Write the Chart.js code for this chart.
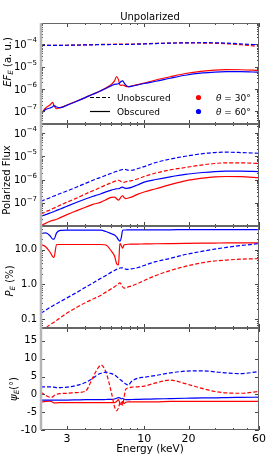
<!DOCTYPE html>
<html>
<head>
<meta charset="utf-8">
<script src="https://cdn.jsdelivr.net/npm/chart.js@4"></script>
<style>
  html, body { margin: 0; padding: 0; background: #fff; }
  #fig { position: relative; width: 273px; height: 468px; }
  #fig canvas { position: absolute; left: 0; top: 0; }
</style>
</head>
<body>
<div id="fig">
  <canvas id="p1" width="273" height="468"></canvas>
  <canvas id="p2" width="273" height="468"></canvas>
  <canvas id="p3" width="273" height="468"></canvas>
  <canvas id="p4" width="273" height="468"></canvas>
</div>
<script>
// energy grid (keV), shared by every curve
const energy = [2.0, 2.15, 2.3, 2.4, 2.45, 2.55, 2.7, 3, 3.5, 4, 4.5, 4.8, 5.1, 5.5, 6, 6.3, 6.5,
  6.7, 6.85, 7.0, 7.15, 7.3, 7.5, 7.8, 8.2, 9, 10, 12, 15, 19, 25, 30, 36, 45, 60];

// panel 1: E F_E
const fluxUnob30 = [8.8e-5, 8.8e-5, 8.8e-5, 8.8e-5, 8.8e-5, 8.8e-5, 8.9e-5, 9.0e-5, 9.2e-5, 9.4e-5, 9.6e-5,
  9.7e-5, 9.8e-5, 9.8e-5, 9.9e-5, 1.0e-4, 1.0e-4, 1.02e-4, 1.01e-4, 1.0e-4, 1.0e-4, 1.0e-4, 1.0e-4, 1.0e-4,
  1.01e-4, 1.03e-4, 1.05e-4, 1.09e-4, 1.13e-4, 1.15e-4, 1.13e-4, 1.1e-4, 1.05e-4, 9.5e-5, 8.0e-5];
const fluxUnob60 = [8.8e-5, 8.8e-5, 8.8e-5, 8.8e-5, 8.8e-5, 8.8e-5, 8.9e-5, 9.0e-5, 9.2e-5, 9.3e-5, 9.4e-5,
  9.5e-5, 9.6e-5, 9.6e-5, 9.7e-5, 9.7e-5, 9.7e-5, 9.7e-5, 9.7e-5, 9.7e-5, 9.7e-5, 9.7e-5, 9.7e-5, 9.8e-5,
  9.9e-5, 1.01e-4, 1.03e-4, 1.07e-4, 1.12e-4, 1.15e-4, 1.17e-4, 1.16e-4, 1.12e-4, 1.04e-4, 9.3e-5];
const fluxObs30 = [7.5e-8, 1.4e-7, 1.9e-7, 2.5e-7, 1.8e-7, 1.3e-7, 1.45e-7, 1.9e-7, 2.9e-7, 4.2e-7, 5.9e-7,
  7.0e-7, 8.5e-7, 1.1e-6, 1.6e-6, 2.3e-6, 3.6e-6, 2.6e-6, 1.5e-6, 1.45e-6, 1.5e-6, 1.45e-6, 1.3e-6, 1.25e-6,
  1.35e-6, 1.55e-6, 1.85e-6, 2.5e-6, 3.5e-6, 4.9e-6, 6.3e-6, 7.0e-6, 7.3e-6, 7.2e-6, 6.7e-6];
const fluxObs60 = [7.5e-8, 1.2e-7, 1.4e-7, 1.6e-7, 1.8e-7, 1.55e-7, 1.45e-7, 1.85e-7, 2.8e-7, 4.1e-7, 5.8e-7,
  6.9e-7, 8.3e-7, 1.05e-6, 1.4e-6, 1.6e-6, 1.65e-6, 1.7e-6, 1.9e-6, 2.2e-6, 2.3e-6, 1.9e-6, 1.5e-6, 1.25e-6,
  1.3e-6, 1.5e-6, 1.75e-6, 2.2e-6, 3.0e-6, 4.1e-6, 5.2e-6, 5.7e-6, 5.9e-6, 5.9e-6, 5.6e-6];

// panel 2: polarized flux
const polUnob30 = [3.3e-8, 4.1e-8, 4.9e-8, 5.6e-8, 5.9e-8, 6.6e-8, 7.9e-8, 1.06e-7, 1.6e-7, 2.4e-7, 3.3e-7,
  3.9e-7, 4.7e-7, 5.8e-7, 7.3e-7, 8.3e-7, 9.0e-7, 9.3e-7, 8.8e-7, 8.0e-7, 7.6e-7, 7.6e-7, 8.0e-7, 8.4e-7,
  8.9e-7, 1.05e-6, 1.35e-6, 1.9e-6, 2.6e-6, 3.3e-6, 4.3e-6, 4.9e-6, 5.2e-6, 5.2e-6, 4.9e-6];
const polUnob60 = [1.17e-7, 1.4e-7, 1.65e-7, 1.85e-7, 1.95e-7, 2.15e-7, 2.5e-7, 3.2e-7, 4.8e-7, 6.8e-7, 9.3e-7,
  1.1e-6, 1.25e-6, 1.5e-6, 1.85e-6, 2.1e-6, 2.25e-6, 2.4e-6, 2.5e-6, 2.6e-6, 2.7e-6, 2.75e-6, 2.7e-6, 2.5e-6,
  2.5e-6, 2.9e-6, 3.6e-6, 5.4e-6, 7.6e-6, 1.0e-5, 1.3e-5, 1.45e-5, 1.5e-5, 1.45e-5, 1.35e-5];
const polObs30 = [1.05e-8, 1.3e-8, 1.6e-8, 1.75e-8, 1.8e-8, 1.95e-8, 2.3e-8, 3.1e-8, 4.6e-8, 6.4e-8, 8.5e-8,
  9.5e-8, 1.07e-7, 1.35e-7, 1.7e-7, 1.75e-7, 1.5e-7, 1.3e-7, 1.5e-7, 1.85e-7, 2.0e-7, 1.7e-7, 1.5e-7, 1.6e-7,
  1.75e-7, 2.3e-7, 2.9e-7, 4.0e-7, 6.0e-7, 8.8e-7, 1.15e-6, 1.3e-6, 1.35e-6, 1.32e-6, 1.2e-6];
const polObs60 = [2.6e-8, 3.1e-8, 3.6e-8, 4.0e-8, 4.2e-8, 4.7e-8, 5.4e-8, 7.1e-8, 1.05e-7, 1.45e-7, 1.9e-7,
  2.15e-7, 2.45e-7, 2.95e-7, 3.5e-7, 3.8e-7, 4.0e-7, 4.0e-7, 4.2e-7, 4.6e-7, 4.7e-7, 4.4e-7, 4.2e-7, 4.3e-7,
  4.6e-7, 5.8e-7, 7.7e-7, 1.0e-6, 1.3e-6, 1.65e-6, 2.0e-6, 2.2e-6, 2.3e-6, 2.3e-6, 2.2e-6];

// panel 3: polarization degree (%)
const degUnob30 = [0.05, 0.056, 0.07, 0.078, 0.082, 0.092, 0.11, 0.15, 0.22, 0.3, 0.38,
  0.43, 0.49, 0.6, 0.75, 0.85, 0.95, 1.05, 1.1, 1.0, 0.85, 0.78, 0.8, 0.85,
  0.9, 1.05, 1.3, 1.8, 2.5, 3.3, 4.2, 4.7, 5.0, 5.3, 5.5];
const degUnob60 = [0.15, 0.18, 0.22, 0.24, 0.255, 0.28, 0.32, 0.41, 0.59, 0.83, 1.1,
  1.3, 1.5, 1.8, 2.25, 2.5, 2.7, 2.85, 2.95, 3.0, 3.0, 2.9, 2.75, 2.7,
  2.8, 3.0, 3.5, 4.5, 5.6, 7.2, 9.0, 10.3, 11.5, 13, 14.8];
const degObs30 = [14, 12, 8.5, 6.3, 6.0, 14, 14, 14, 14, 14, 14,
  14, 14, 13.5, 9, 6.5, 4.0, 3.6, 15, 13, 11, 13.5, 14, 14.2,
  14.3, 14.4, 14.5, 14.7, 14.9, 15.1, 15.3, 15.4, 15.5, 15.5, 15.6];
const degObs60 = [29, 30, 25, 20, 20, 30, 35.5, 36, 36, 36, 36,
  36, 36, 33, 28.5, 26, 23, 19, 17.5, 22, 36, 36.5, 36.5, 37,
  37, 37, 37, 37, 37, 37.5, 37.5, 37.5, 37.5, 37.5, 37.5];

// panel 4: polarization angle (deg)
const angUnob30 = [0.6, -0.3, -0.8, -0.7, -0.4, 0.0, 0.2, 0.3, 0.5, 0.9, 4.8,
  7.0, 8.2, 6.3, 0.5, -3.5, -4.6, -3.8, -2.3, -2.0, -3.0, -1.0, 1.4, 1.8,
  2.0, 2.1, 2.3, 3.2, 4.0, 3.0, 1.6, 0.8, 0.4, 0.3, 0.8];
const angUnob60 = [2.1, 2.1, 2.1, 2.0, 2.0, 1.9, 1.9, 2.0, 2.5, 3.3, 4.5,
  5.4, 5.9, 6.2, 5.8, 5.4, 5.0, 4.6, 4.2, 3.9, 3.6, 3.3, 2.9, 2.6,
  3.6, 4.5, 4.8, 5.3, 6.0, 6.5, 6.6, 6.3, 6.0, 5.8, 6.4];
const angObs30 = [-2.2, -2.0, -1.9, -2.2, -2.4, -2.4, -2.3, -2.3, -2.3, -2.3, -2.3,
  -2.3, -2.3, -2.3, -2.3, -2.3, -2.0, -1.5, -2.5, -2.9, -2.0, -2.6, -2.2, -2.1,
  -2.1, -2.1, -2.1, -2.1, -2.0, -2.0, -2.0, -2.0, -2.0, -2.0, -2.0];
const angObs60 = [-1.6, -1.6, -1.6, -1.6, -1.6, -1.6, -1.6, -1.6, -1.55, -1.5, -1.5,
  -1.5, -1.5, -1.45, -1.4, -1.3, -1.1, -0.9, -1.0, -1.3, -1.1, -1.4, -1.5, -1.5,
  -1.45, -1.4, -1.35, -1.3, -1.2, -1.1, -1.0, -1.0, -0.9, -0.85, -0.8];

// ticks
const xTickLabels = [3, 10, 20, 60];
const xMinorTicks = [2, 4, 5, 6, 7, 8, 9, 30, 40, 50];
const fluxTicks = [1e-7, 1e-6, 1e-5, 1e-4];
const polFluxTicks = [1e-7, 1e-6, 1e-5, 1e-4];
const degTicks = [0.1, 1, 10];
const angTicks = [-10, -5, 0, 5, 10, 15];

const FONT = '"DejaVu Sans", sans-serif';
const RED = '#ff0000', BLUE = '#0000ff';
const H = 468;
const panelEdges = [[23, 124], [124, 226], [226, 328], [328, 430]];

function line(vals, color, dashed) {
  return {
    data: energy.map((e, i) => ({ x: e, y: vals[i] })),
    borderColor: color,
    borderWidth: 1.2,
    borderDash: dashed ? [4, 2] : [],
    pointRadius: 0,
    fill: false,
    cubicInterpolationMode: 'monotone',
    clip: 0
  };
}

// text with italic / sub / sup pieces, centred on (x, y)
function drawRich(ctx, parts, x, y, size, rotate, align) {
  ctx.save();
  ctx.translate(x, y);
  if (rotate) ctx.rotate(-Math.PI / 2);
  const fontOf = p => `${p.it ? 'italic ' : ''}${(p.sub || p.sup) ? size * 0.72 : size}px ${FONT}`;
  let total = 0;
  const widths = parts.map(p => { ctx.font = fontOf(p); const w = ctx.measureText(p.t).width; total += w; return w; });
  let cx = align === 'left' ? 0 : -total / 2;
  ctx.textAlign = 'left';
  ctx.textBaseline = 'alphabetic';
  ctx.fillStyle = '#000';
  parts.forEach((p, i) => {
    ctx.font = fontOf(p);
    const dy = p.sub ? size * 0.22 : p.sup ? -size * 0.4 : 0;
    ctx.fillText(p.t, cx, size * 0.36 + dy);
    cx += widths[i];
  });
  ctx.restore();
}

function drawPow(ctx, xRight, y, v) {
  const e = Math.round(Math.log10(v));
  const sup = (e < 0 ? '\u2212' : '') + Math.abs(e);
  ctx.font = `10px ${FONT}`;
  const wb = ctx.measureText('10').width;
  ctx.font = `7px ${FONT}`;
  const ws = ctx.measureText(sup).width;
  const x0 = xRight - wb - ws;
  ctx.textAlign = 'left';
  ctx.textBaseline = 'alphabetic';
  ctx.fillStyle = '#000';
  ctx.font = `10px ${FONT}`;
  ctx.fillText('10', x0, y + 3.6);
  ctx.font = `7px ${FONT}`;
  ctx.fillText(sup, x0 + wb, y - 2);
}

function logMinors(min, max) {
  const out = [];
  for (let d = Math.floor(Math.log10(min)); d <= Math.ceil(Math.log10(max)); d++) {
    for (let m = 2; m <= 9; m++) {
      const v = m * Math.pow(10, d);
      if (v > min && v < max) out.push(v);
    }
  }
  return out;
}

// per-panel extras for the drawing plugin
const panelCfg = {
  p1: { major: fluxTicks, log: true, powLabels: true, min: 2.7e-8, max: 8.9e-4,
        label: [{ t: 'E', it: true }, { t: 'F', it: true }, { t: 'E', it: true, sub: true }, { t: ' (a. u.)' }],
        labelX: 7, labelY: 62 },
  p2: { major: polFluxTicks, log: true, powLabels: true, min: 1e-8, max: 2.45e-4,
        label: [{ t: 'Polarized Flux' }], labelX: 6.5, labelY: 180 },
  p3: { major: degTicks, log: true, min: 0.056, max: 47.5,
        label: [{ t: 'P', it: true }, { t: 'E', it: true, sub: true }, { t: ' (%)' }], labelX: 9.5, labelY: 281 },
  p4: { major: angTicks, log: false, min: -10, max: 18.6,
        label: [{ t: '\u03C8', it: true }, { t: 'E', it: true, sub: true }, { t: '(\u00B0)' }], labelX: 13, labelY: 389 }
};

const framePlugin = {
  id: 'frame',
  afterDatasetsDraw(chart) {
    const cfg = panelCfg[chart.canvas.id];
    const { ctx, chartArea: a, scales } = chart;
    ctx.save();
    ctx.strokeStyle = '#444';
    ctx.lineWidth = 1;
    ctx.setLineDash([]);
    ctx.beginPath();
    const xt = (v, len) => {
      const px = Math.round(scales.x.getPixelForValue(v)) + 0.5;
      ctx.moveTo(px, a.top); ctx.lineTo(px, a.top + len);
      ctx.moveTo(px, a.bottom); ctx.lineTo(px, a.bottom - len);
    };
    xTickLabels.forEach(v => xt(v, 4));
    xMinorTicks.forEach(v => xt(v, 2));
    const yt = (v, len) => {
      const py = Math.round(scales.y.getPixelForValue(v)) + 0.5;
      ctx.moveTo(a.left, py); ctx.lineTo(a.left + len, py);
      ctx.moveTo(a.right, py); ctx.lineTo(a.right - len, py);
    };
    cfg.major.forEach(v => yt(v, 4));
    if (cfg.log) logMinors(cfg.min, cfg.max).forEach(v => yt(v, 2));
    ctx.stroke();

    // spines
    ctx.strokeStyle = '#666';
    ctx.beginPath();
    ctx.moveTo(a.left, a.top + 0.5); ctx.lineTo(a.right, a.top + 0.5);
    ctx.moveTo(a.left, a.bottom - 0.5); ctx.lineTo(a.right, a.bottom - 0.5);
    ctx.moveTo(a.right - 0.5, a.top); ctx.lineTo(a.right - 0.5, a.bottom);
    ctx.stroke();
    ctx.strokeStyle = '#b5b5b5';
    ctx.lineWidth = 2.5;
    ctx.beginPath();
    ctx.moveTo(a.left, a.top); ctx.lineTo(a.left, a.bottom);
    ctx.stroke();

    if (cfg.powLabels) cfg.major.forEach(v => drawPow(ctx, 37, scales.y.getPixelForValue(v), v));
    drawRich(ctx, cfg.label, cfg.labelX, cfg.labelY, 10, true);

    if (chart.canvas.id === 'p1') {
      drawRich(ctx, [{ t: 'Unpolarized' }], 150, 16, 10, false);
      // legend
      ctx.lineWidth = 1.2;
      ctx.strokeStyle = '#000';
      ctx.setLineDash([4, 2]);
      ctx.beginPath(); ctx.moveTo(90, 97.5); ctx.lineTo(110, 97.5); ctx.stroke();
      ctx.setLineDash([]);
      ctx.beginPath(); ctx.moveTo(90, 111.5); ctx.lineTo(110, 111.5); ctx.stroke();
      drawRich(ctx, [{ t: 'Unobscured' }], 117, 97.5, 9, false, 'left');
      drawRich(ctx, [{ t: 'Obscured' }], 117, 111.5, 9, false, 'left');
      ctx.fillStyle = RED;
      ctx.beginPath(); ctx.arc(198.5, 97.5, 2.6, 0, Math.PI * 2); ctx.fill();
      ctx.fillStyle = BLUE;
      ctx.beginPath(); ctx.arc(198.5, 111.5, 2.6, 0, Math.PI * 2); ctx.fill();
      drawRich(ctx, [{ t: '\u03B8', it: true }, { t: ' = 30\u00B0' }], 216, 97.5, 9, false, 'left');
      drawRich(ctx, [{ t: '\u03B8', it: true }, { t: ' = 60\u00B0' }], 216, 111.5, 9, false, 'left');
    }
    ctx.restore();
  }
};

function makePanel(id, idx, datasets, yScale) {
  const [top, bottom] = panelEdges[idx];
  const last = idx === 3;
  const cfg = panelCfg[id];
  return new Chart(document.getElementById(id), {
    type: 'line',
    data: { datasets },
    plugins: [framePlugin],
    options: {
      responsive: false,
      animation: false,
      devicePixelRatio: 1,
      events: [],
      layout: { padding: { top, bottom: last ? 0 : H - bottom, left: 0, right: 14 } },
      plugins: { legend: { display: false }, tooltip: { enabled: false } },
      scales: {
        x: {
          type: 'logarithmic', min: 2, max: 60, display: last,
          grid: { display: false, drawTicks: false },
          border: { display: false },
          afterBuildTicks: s => { s.ticks = xTickLabels.map(v => ({ value: v })); },
          afterFit: s => { s.height = last ? H - 430 : 0; },
          ticks: { autoSkip: false, maxRotation: 0, padding: 3, color: '#000',
                   font: { family: FONT, size: 11 }, callback: v => String(v) },
          title: { display: true, text: 'Energy (keV)', color: '#000',
                   font: { family: FONT, size: 10.5 }, padding: { top: 0, bottom: 12 } }
        },
        y: Object.assign({
          min: cfg.min, max: cfg.max,
          grid: { display: false, drawTicks: false },
          border: { display: false },
          afterFit: s => { s.width = 41; },
          afterBuildTicks: s => { s.ticks = cfg.major.map(v => ({ value: v })); }
        }, yScale)
      }
    }
  });
}

makePanel('p1', 0, [
  line(fluxUnob60, BLUE, true), line(fluxUnob30, RED, true),
  line(fluxObs60, BLUE, false), line(fluxObs30, RED, false)
], { type: 'logarithmic', ticks: { display: false } });

makePanel('p2', 1, [
  line(polUnob60, BLUE, true), line(polUnob30, RED, true),
  line(polObs60, BLUE, false), line(polObs30, RED, false)
], { type: 'logarithmic', ticks: { display: false } });

makePanel('p3', 2, [
  line(degUnob60, BLUE, true), line(degUnob30, RED, true),
  line(degObs60, BLUE, false), line(degObs30, RED, false)
], { type: 'logarithmic', ticks: { autoSkip: false, padding: 4, color: '#000',
     font: { family: FONT, size: 10 }, callback: v => Number(v).toFixed(1) } });

makePanel('p4', 3, [
  line(angUnob60, BLUE, true), line(angUnob30, RED, true),
  line(angObs60, BLUE, false), line(angObs30, RED, false)
], { type: 'linear', ticks: { autoSkip: false, padding: 4, color: '#000',
     font: { family: FONT, size: 10 }, callback: v => String(v) } });
</script>
</body>
</html>
